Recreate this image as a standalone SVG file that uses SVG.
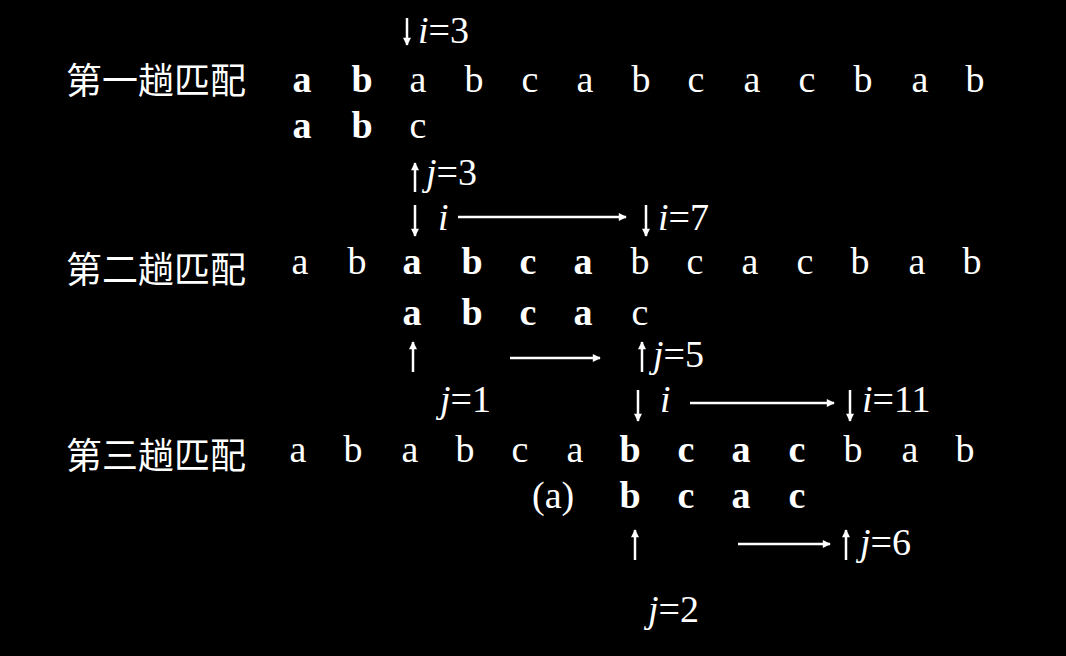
<svg xmlns="http://www.w3.org/2000/svg" width="1066" height="656" viewBox="0 0 1066 656">
<style>
text{fill:#fff;font-family:"Liberation Serif","Noto Sans CJK SC",serif;font-size:38px}
.t{text-anchor:middle}
.b{font-weight:bold}
.i{font-style:italic}
.cn{font-family:"Noto Sans CJK SC","Liberation Serif",serif;font-size:36px}
.l{stroke:#fff;stroke-width:2.5;fill:none}
</style>
<defs>
<marker id="ah" viewBox="0 0 10 10" refX="9" refY="5" markerWidth="10" markerHeight="8" markerUnits="userSpaceOnUse" orient="auto"><path d="M0,0L10,5L0,10z" fill="#fff"/></marker>
</defs>
<rect width="1066" height="656" fill="#000"/>
<g id="labels">
<text class="cn" x="66" y="94">第一趟匹配</text>
<text class="cn" x="66" y="283">第二趟匹配</text>
<text class="cn" x="66" y="469">第三趟匹配</text>
</g>
<g id="row1">
<text class="t b" x="302" y="92">a</text><text class="t b" x="362" y="92">b</text><text class="t" x="418" y="92">a</text><text class="t" x="474" y="92">b</text><text class="t" x="530" y="92">c</text><text class="t" x="585" y="92">a</text><text class="t" x="641" y="92">b</text><text class="t" x="696" y="92">c</text><text class="t" x="752" y="92">a</text><text class="t" x="807" y="92">c</text><text class="t" x="863" y="92">b</text><text class="t" x="920" y="92">a</text><text class="t" x="975" y="92">b</text>
<text class="t b" x="302" y="138">a</text><text class="t b" x="362" y="138">b</text><text class="t" x="418" y="138">c</text>
</g>
<g id="row2">
<text class="t" x="300" y="274">a</text><text class="t" x="357" y="274">b</text><text class="t b" x="412" y="274">a</text><text class="t b" x="472" y="274">b</text><text class="t b" x="528" y="274">c</text><text class="t b" x="583" y="274">a</text><text class="t" x="640" y="274">b</text><text class="t" x="695" y="274">c</text><text class="t" x="750" y="274">a</text><text class="t" x="805" y="274">c</text><text class="t" x="860" y="274">b</text><text class="t" x="917" y="274">a</text><text class="t" x="972" y="274">b</text>
<text class="t b" x="412" y="325">a</text><text class="t b" x="472" y="325">b</text><text class="t b" x="528" y="325">c</text><text class="t b" x="583" y="325">a</text><text class="t" x="640" y="325">c</text>
</g>
<g id="row3">
<text class="t" x="298" y="462">a</text><text class="t" x="353" y="462">b</text><text class="t" x="410" y="462">a</text><text class="t" x="465" y="462">b</text><text class="t" x="520" y="462">c</text><text class="t" x="575" y="462">a</text><text class="t b" x="630" y="462">b</text><text class="t b" x="686" y="462">c</text><text class="t b" x="741" y="462">a</text><text class="t b" x="797" y="462">c</text><text class="t" x="853" y="462">b</text><text class="t" x="910" y="462">a</text><text class="t" x="965" y="462">b</text>
<text x="532" y="508">(a)</text>
<text class="t b" x="630" y="508">b</text><text class="t b" x="686" y="508">c</text><text class="t b" x="741" y="508">a</text><text class="t b" x="797" y="508">c</text>
</g>
<g id="pointers">
<text x="418" y="43"><tspan class="i">i</tspan>=3</text>
<text x="426" y="185"><tspan class="i">j</tspan>=3</text>
<text class="i" x="438" y="230">i</text>
<text x="658" y="230"><tspan class="i">i</tspan>=7</text>
<text x="653" y="367"><tspan class="i">j</tspan>=5</text>
<text x="440" y="412"><tspan class="i">j</tspan>=1</text>
<text class="i" x="660" y="412">i</text>
<text x="862" y="412"><tspan class="i">i</tspan>=11</text>
<text x="860" y="555"><tspan class="i">j</tspan>=6</text>
<text x="648" y="622"><tspan class="i">j</tspan>=2</text>
</g>
<g id="connectors" class="l">
<line x1="407" y1="18" x2="407" y2="45" marker-end="url(#ah)"/>
<line x1="415" y1="192" x2="415" y2="163" marker-end="url(#ah)"/>
<line x1="415" y1="205" x2="415" y2="236" marker-end="url(#ah)"/>
<line x1="458" y1="217" x2="626" y2="217" marker-end="url(#ah)"/>
<line x1="646" y1="205" x2="646" y2="236" marker-end="url(#ah)"/>
<line x1="413" y1="372" x2="413" y2="342" marker-end="url(#ah)"/>
<line x1="510" y1="358" x2="600" y2="358" marker-end="url(#ah)"/>
<line x1="642" y1="372" x2="642" y2="342" marker-end="url(#ah)"/>
<line x1="638" y1="390" x2="638" y2="421" marker-end="url(#ah)"/>
<line x1="690" y1="403" x2="834" y2="403" marker-end="url(#ah)"/>
<line x1="850" y1="390" x2="850" y2="421" marker-end="url(#ah)"/>
<line x1="635" y1="560" x2="635" y2="530" marker-end="url(#ah)"/>
<line x1="738" y1="544" x2="830" y2="544" marker-end="url(#ah)"/>
<line x1="846" y1="560" x2="846" y2="530" marker-end="url(#ah)"/>
</g>
</svg>
